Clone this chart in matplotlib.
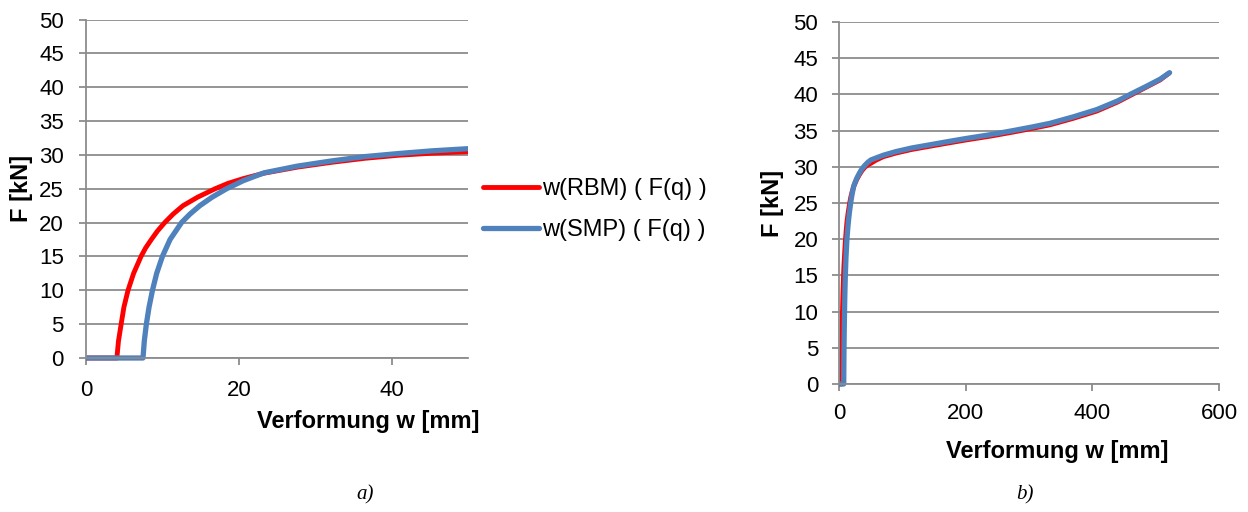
import matplotlib
matplotlib.use("Agg")
import matplotlib.pyplot as plt
from matplotlib.lines import Line2D
from matplotlib.transforms import Bbox, TransformedBbox

# ---- data ----
w_rbm = [0, 4.04, 4.25, 4.6, 4.96, 5.5, 6.23, 7.2, 7.8, 8.55, 9.35, 10.3, 11.4, 12.7,
         14.6, 16.9, 18.6, 20.6, 23.3, 27.7, 32.1, 36.5, 40.9, 45.3, 50.5,
         58, 70, 90, 115, 141, 170, 200, 240, 275, 305, 333, 370, 407, 440, 462,
         485, 507, 522]
F_rbm = [0, 0, 2.5, 5.0, 7.5, 10.0, 12.5, 15.0, 16.25, 17.5, 18.75, 20.0, 21.25, 22.5,
         23.75, 25.0, 25.8, 26.5, 27.3, 28.2, 28.9, 29.5, 29.95, 30.25, 30.5,
         30.9, 31.4, 31.9, 32.4, 32.8, 33.25, 33.7, 34.25, 34.8, 35.3, 35.8, 36.7,
         37.7, 38.95, 39.95, 41.0, 42.0, 43.0]

w_smp = [0, 7.46, 7.63, 7.9, 8.25, 8.7, 9.25, 10.0, 11.0, 12.5, 13.6, 14.9, 16.5, 18.4,
         20.6, 23.3, 27.7, 32.1, 36.5, 40.9, 45.3, 50.5,
         58, 70, 90, 115, 141, 170, 200, 240, 275, 305, 333, 370, 407, 440, 462,
         485, 507, 522]
F_smp = [0, 0, 2.5, 5.0, 7.5, 10.0, 12.5, 15.0, 17.5, 20.0, 21.25, 22.5, 23.75, 25.0,
         26.2, 27.35, 28.35, 29.1, 29.75, 30.2, 30.6, 30.95,
         31.2, 31.6, 32.1, 32.6, 33.0, 33.45, 33.9, 34.45, 35.0, 35.5, 36.0, 36.9,
         37.9, 39.1, 40.1, 41.1, 42.1, 43.0]

labels = ["w(RBM) ( F(q) )", "w(SMP) ( F(q) )"]
colors = ["#FF0000", "#4F81BD"]
y_ticks = list(range(0, 51, 5))
x_ticks_a = [0, 20, 40]
x_ticks_b = [0, 200, 400, 600]

plt.rcParams['font.family'] = ['Liberation Sans', 'DejaVu Sans']
GRID = "#8C8C8C"
LW_RED, LW_BLUE = 3.5, 3.8

fig = plt.figure(figsize=(12.48, 5.12), dpi=100)
ax1 = fig.add_axes([86/1248, 1-358/512, (468-86)/1248, (358-19.5)/512])
ax2 = fig.add_axes([839/1248, 1-384/512, (1219-839)/1248, (384-22)/512])

def style(ax, xlim, xticks, ypad, xpad):
    ax.set_ylim(0, 50)
    ax.set_xlim(*xlim)
    ax.set_yticks(y_ticks)
    ax.set_xticks(xticks)
    ax.grid(axis='y', color=GRID, linewidth=1.3)
    ax.set_axisbelow(True)
    for s in ['top', 'right']:
        ax.spines[s].set_visible(False)
    for s in ['left', 'bottom']:
        ax.spines[s].set_color(GRID)
        ax.spines[s].set_linewidth(1.3)
    ax.tick_params(axis='y', length=5, width=1.3, color=GRID, pad=ypad, labelsize=16)
    ax.tick_params(axis='x', length=5, width=1.3, color=GRID, pad=xpad, labelsize=16)
    ax.set_ylabel("F [kN]", fontsize=17, fontweight='bold')
    ax.set_xlabel("Verformung w [mm]", fontsize=17, fontweight='bold')

for ax in (ax1, ax2):
    clipbox = TransformedBbox(Bbox([[0, -0.05], [1, 1.05]]), ax.transAxes)
    l1, = ax.plot(w_rbm, F_rbm, color=colors[0], linewidth=LW_RED,
                  solid_capstyle='butt', solid_joinstyle='round')
    l2, = ax.plot(w_smp, F_smp, color=colors[1], linewidth=LW_BLUE,
                  solid_capstyle='round', solid_joinstyle='round')
    for ln in (l1, l2):
        ln.set_clip_box(clipbox)

style(ax1, (0, 50), x_ticks_a, 11, 11)
style(ax2, (0, 600), x_ticks_b, 10, 9)

ax1.xaxis.set_label_coords(0.738, -0.154)
ax1.yaxis.set_label_coords(-0.139, 0.502)
ax2.xaxis.set_label_coords(0.574, -0.155)
ax2.yaxis.set_label_coords(-0.145, 0.5)

handles = [Line2D([0], [0], color=colors[0], linewidth=LW_RED, solid_capstyle='round'),
           Line2D([0], [0], color=colors[1], linewidth=LW_BLUE, solid_capstyle='round')]
fig.legend(handles, labels, loc='center left', bbox_to_anchor=(462/1248, 1-209.5/512),
           frameon=False, fontsize=17, handlelength=2.37, handletextpad=0.13,
           labelspacing=0.8)

fig.text(365/1248, 1-495/512, "a)", fontsize=15, fontstyle='italic',
         family=['Liberation Serif', 'DejaVu Serif'], ha='center', va='center')
fig.text(1025/1248, 1-495/512, "b)", fontsize=15, fontstyle='italic',
         family=['Liberation Serif', 'DejaVu Serif'], ha='center', va='center')

fig.savefig("out.png", dpi=100)
